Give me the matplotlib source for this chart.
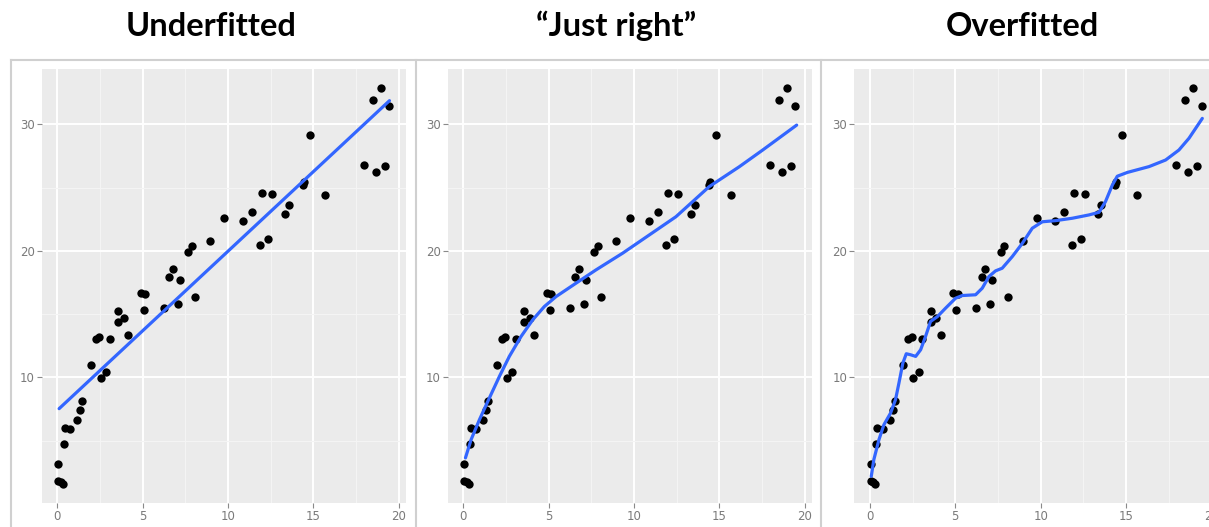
import matplotlib.pyplot as plt
from matplotlib.lines import Line2D

# data points (same in all three panels)
x_data = [0.06, 0.04, 0.20, 0.31, 0.37, 0.43, 0.74, 1.15, 1.35, 1.46,
          1.95, 2.26, 2.46, 2.54, 2.87, 3.06, 3.55, 3.55, 3.88, 4.16,
          4.88, 5.15, 5.07, 6.24, 6.56, 6.77, 7.16, 7.06, 7.67, 7.88,
          8.06, 8.96, 9.78, 10.87, 11.38, 11.86, 11.98, 12.35, 12.57, 13.35,
          13.56, 14.36, 14.44, 14.77, 15.65, 17.95, 18.46, 18.65, 18.95, 19.16,
          19.45]
y_data = [3.16, 1.84, 1.71, 1.58, 4.74, 6.00, 5.92, 6.63, 7.45, 8.10,
          10.97, 13.00, 13.20, 9.95, 10.40, 13.00, 15.26, 14.34, 14.70, 13.37,
          16.68, 16.63, 15.34, 15.45, 17.97, 18.55, 17.71, 15.82, 19.90, 20.39,
          16.39, 20.76, 22.63, 22.34, 23.10, 20.47, 24.58, 20.95, 24.47, 22.89,
          23.60, 25.18, 25.47, 29.13, 24.42, 26.82, 31.89, 26.24, 32.87, 26.68,
          31.45]

# fitted lines
under_x = [0.10, 19.45]
under_y = [7.53, 31.87]

right_x = [0.12, 0.45, 0.94, 1.52, 2.11, 2.69, 3.38, 4.06, 4.74, 5.43,
           6.60, 7.77, 9.33, 10.89, 12.45, 14.40, 16.16, 17.53, 19.52]
right_y = [3.64, 5.08, 6.66, 8.37, 10.08, 11.66, 13.24, 14.55, 15.60, 16.39,
           17.45, 18.50, 19.82, 21.26, 22.70, 25.08, 26.65, 27.97, 29.94]

over_x = [0.08, 0.23, 0.53, 0.82, 1.21, 1.50, 1.70, 1.93, 2.13, 2.38,
          2.68, 2.97, 3.26, 3.55, 3.95, 4.43, 5.02, 5.41, 6.19, 6.58,
          6.97, 7.36, 7.75, 8.34, 8.93, 9.51, 10.10, 10.88, 11.86, 12.83,
          13.42, 13.80, 14.20, 14.49, 15.08, 16.35, 17.32, 18.10, 18.69, 19.47]
over_y = [2.18, 3.50, 5.08, 6.26, 7.18, 8.24, 9.55, 11.13, 11.87, 11.79,
          11.66, 12.18, 13.24, 14.42, 14.80, 15.47, 16.26, 16.47, 16.53, 17.05,
          17.97, 18.42, 18.63, 19.55, 20.60, 21.79, 22.30, 22.39, 22.58, 22.84,
          23.05, 23.90, 25.20, 25.90, 26.20, 26.66, 27.18, 27.97, 28.90, 30.47]

titles = ["Underfitted", "\u201cJust right\u201d", "Overfitted"]
curves = [(under_x, under_y), (right_x, right_y), (over_x, over_y)]

W, H = 1209, 527
fig = plt.figure(figsize=(W / 100, H / 100), dpi=100)

offsets = [0, 406, 812.5]
for i in range(3):
    off = offsets[i]
    ax = fig.add_axes([(41.7 + off) / W, (H - 503.3) / H, 364.5 / W, 434 / H])
    ax.set_facecolor("#EBEBEB")
    ax.set_xlim(-0.92, 20.43)
    ax.set_ylim(0.05, 34.35)

    ax.set_xticks([0, 5, 10, 15, 20])
    ax.set_xticks([2.5, 7.5, 12.5, 17.5], minor=True)
    ax.set_yticks([10, 20, 30])
    ax.set_yticks([5, 15, 25], minor=True)
    ax.grid(which="major", color="white", lw=1.4)
    ax.grid(which="minor", color="#F4F4F4", lw=0.8)
    ax.set_axisbelow(True)
    ax.tick_params(which="minor", length=0)
    ax.tick_params(which="major", length=3.5, width=0.8, color="#8a8a8a",
                   labelcolor="#7a7a7a", labelsize=8.5, pad=1.5)
    for s in ax.spines.values():
        s.set_visible(False)

    ax.scatter(x_data, y_data, s=36, c="black", linewidths=0, zorder=3)
    cx, cy = curves[i]
    ax.plot(cx, cy, color="#3366FF", lw=2.3, zorder=4,
            solid_joinstyle="round", solid_capstyle="round")

# light grey frames around panels
fc = "#D0D0D0"
top = 1 - 60 / H
fig.add_artist(Line2D([11 / W, 1], [top, top], color=fc, lw=1.5))
for xb in [11, 415.5, 821]:
    fig.add_artist(Line2D([xb / W, xb / W], [0, top], color=fc, lw=1.5))

# titles
for xc, t in zip([211, 616, 1022], titles):
    fig.text(xc / W, 1 - 26 / H, t, ha="center", va="center",
             fontsize=23.5, fontweight="bold", family="Lato")

fig.savefig("out.png", dpi=100)
